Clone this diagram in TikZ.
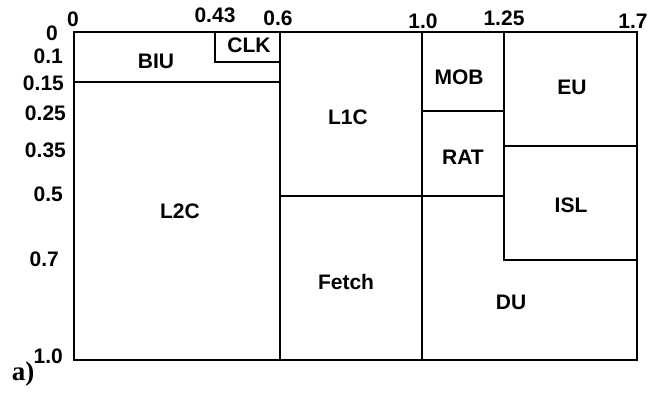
\documentclass[tikz,border=0pt]{standalone}
\usepackage{fontspec}
\setsansfont{Liberation Sans}
\newfontfamily\tagfont{Liberation Serif}
\begin{document}
\begin{tikzpicture}[x=1pt, y=-1pt, line width=1.6pt, line cap=rect,
		font=\sffamily\bfseries\fontsize{21}{21}\selectfont]
	\useasboundingbox (0,0) rectangle (650,392);
	% Grid positions
	\def\xa{74}  \def\xb{215} \def\xc{280}
	\def\xd{422} \def\xe{504} \def\xf{637}
	\def\ya{32}  \def\yb{62}  \def\yc{82}  \def\yd{111}
	\def\ye{146} \def\yf{196} \def\yg{260} \def\yh{360}
	
	% Outer frame
	\draw (\xa,\ya) rectangle (\xf,\yh);
	
	% Block boundaries
	\draw (\xa,\yc) -- (\xc,\yc);
	\draw (\xb,\ya) -- (\xb,\yb) -- (\xc,\yb);
	\draw (\xc,\ya) -- (\xc,\yh);
	\draw (\xc,\yf) -- (\xe,\yf);
	\draw (\xd,\ya) -- (\xd,\yh);
	\draw (\xd,\yd) -- (\xe,\yd);
	\draw (\xe,\ya) -- (\xe,\yg) -- (\xf,\yg);
	\draw (\xe,\ye) -- (\xf,\ye);
	
	% Block names
	\node (biu) at (156,61) {BIU};
	\node (clk) at (249,45) {CLK};
	\node (l1c) at (348,117) {L1C};
	\node (mob) at (459,77) {MOB};
	\node (eu) at (572,87) {EU};
	\node (rat) at (463,157) {RAT};
	\node (isl) at (571,205) {ISL};
	\node (l2c) at (180,211) {L2C};
	\node (fetch) at (346,282) {Fetch};
	\node (du) at (511,302) {DU};
	
	% Scale along the top
	\foreach \name/\px/\py/\txt in {t0/73/19.5/0, t43/215/15.5/0.43, t60/278/18/0.6,
		t100/423/21/1.0, t125/504/18.5/1.25, t170/633/21/1.7}
		\node (\name) at (\px,\py) {\txt};
	
	% Scale along the left side
	\foreach \name/\px/\py/\txt in {l0/62/33.5/0, l10/67/56.5/0.1, l15/68/83.5/0.15,
		l25/70/113/0.25, l35/70/150/0.35, l50/67/194/0.5, l70/63/259.5/0.7,
		l100/67/356/1.0}
		\node[anchor=east] (\name) at (\px,\py) {\txt};
	
	% Sub-figure tag
	\node[font=\tagfont\bfseries\fontsize{27}{27}\selectfont] (tag) at (23,374) {a)};
\end{tikzpicture}
\end{document}
